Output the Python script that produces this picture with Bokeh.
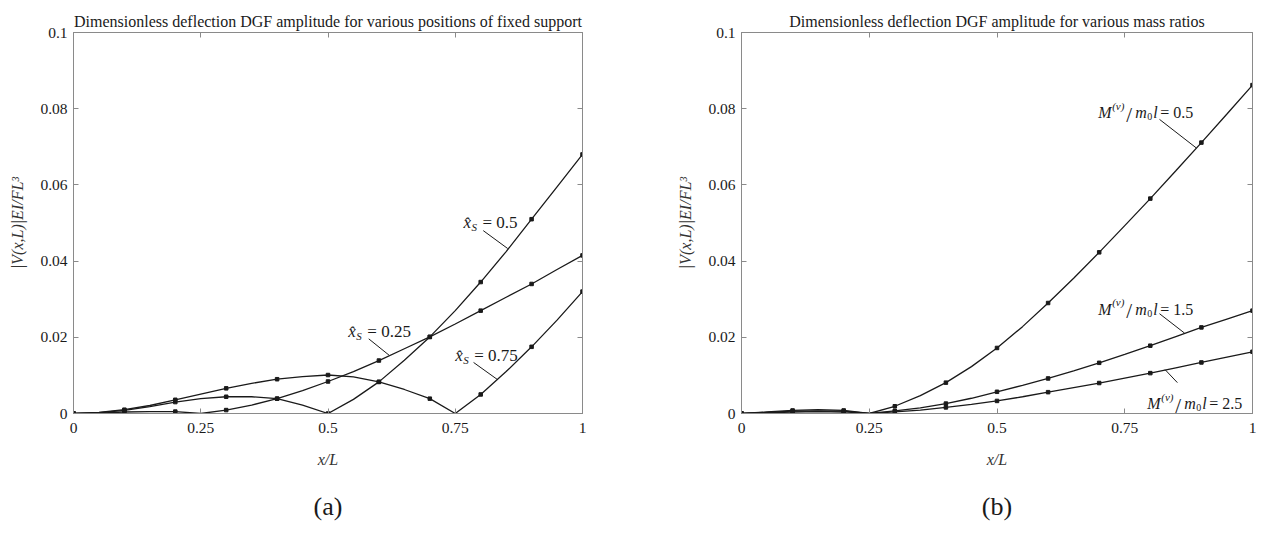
from bokeh.plotting import figure
from bokeh.models import Range1d, LinearAxis, FixedTicker, Label, Title
from bokeh.layouts import row
from bokeh.embed import file_html
from bokeh.resources import INLINE

# ---------------- data ----------------
x_line = [0.0, 0.05, 0.1, 0.15, 0.2, 0.25, 0.3, 0.35, 0.4, 0.45, 0.5,
          0.55, 0.6, 0.65, 0.7, 0.75, 0.8, 0.85, 0.9, 0.95, 1.0]

# panel (a): position of fixed support
xs_025 = [0, 0.0001, 0.0004, 0.0005, 0.0005, 0.0, 0.0009, 0.0022, 0.0039, 0.006, 0.0084,
          0.011, 0.0139, 0.017, 0.0201, 0.0235, 0.027, 0.0305, 0.034, 0.0378, 0.0415]
xs_05 = [0, 0.0002, 0.0008, 0.0018, 0.003, 0.0039, 0.0044, 0.0044, 0.0039, 0.0022, 0.0,
         0.0037, 0.0083, 0.014, 0.0201, 0.027, 0.0345, 0.0425, 0.051, 0.0595, 0.068]
xs_075 = [0, 0.0003, 0.001, 0.0021, 0.0036, 0.0051, 0.0066, 0.0079, 0.009, 0.0097, 0.0101,
          0.0096, 0.0083, 0.0063, 0.0039, 0.0, 0.005, 0.011, 0.0175, 0.0245, 0.032]

# panel (b): mass ratios
mr_05 = [0, 0.0004, 0.0008, 0.001, 0.0008, 0.0, 0.0019, 0.0047, 0.0081, 0.0123, 0.0172,
         0.0228, 0.029, 0.0355, 0.0423, 0.0493, 0.0564, 0.0637, 0.0711, 0.0786, 0.0862]
mr_15 = [0, 0.0003, 0.0006, 0.0007, 0.0006, 0.0, 0.0007, 0.0015, 0.0026, 0.004, 0.0057,
         0.0074, 0.0092, 0.0112, 0.0133, 0.0155, 0.0178, 0.0202, 0.0226, 0.0248, 0.027]
mr_25 = [0, 0.0002, 0.0004, 0.0005, 0.0004, 0.0, 0.0004, 0.0009, 0.0016, 0.0024, 0.0033,
         0.0044, 0.0056, 0.0068, 0.008, 0.0093, 0.0106, 0.012, 0.0134, 0.0148, 0.0162]

x_ticks = [0, 0.25, 0.5, 0.75, 1]
x_tick_labels = ["0", "0.25", "0.5", "0.75", "1"]
y_ticks = [0, 0.02, 0.04, 0.06, 0.08, 0.1]
y_tick_labels = ["0", "0.02", "0.04", "0.06", "0.08", "0.1"]

title_a = "Dimensionless deflection DGF amplitude for various positions of fixed support"
title_b = "Dimensionless deflection DGF amplitude for various mass ratios"
x_label = "x/L"
y_label = "|V(x,L)|EI/FL³"

# ---------------- style ----------------
SERIF = "Liberation Serif"
GREY = "#8a8a8a"
INK = "#1a1a1a"


def make_fig(title, bl, br, panel_tag):
    p = figure(width=632, height=539, output_backend="svg", toolbar_location=None,
               x_range=Range1d(0, 1), y_range=Range1d(0, 0.1),
               min_border_left=bl, min_border_right=br,
               min_border_top=32, min_border_bottom=126,
               x_axis_location=None, y_axis_location=None)
    p.grid.visible = False
    p.outline_line_color = GREY
    p.outline_line_width = 1
    p.background_fill_color = "white"
    p.border_fill_color = "white"

    p.title.text = title
    p.title.align = "center"
    p.title.text_font = SERIF
    p.title.text_font_size = "16px"
    p.title.text_font_style = "normal"
    p.title.text_color = INK
    p.title.standoff = 5

    xb = LinearAxis(ticker=FixedTicker(ticks=x_ticks),
                    major_label_overrides={t: s for t, s in zip(x_ticks, x_tick_labels)})
    yl = LinearAxis(ticker=FixedTicker(ticks=y_ticks),
                    major_label_overrides={t: s for t, s in zip(y_ticks, y_tick_labels)})
    xt = LinearAxis(ticker=FixedTicker(ticks=x_ticks),
                    major_label_overrides={t: "" for t in x_ticks})
    yr = LinearAxis(ticker=FixedTicker(ticks=y_ticks),
                    major_label_overrides={t: "" for t in y_ticks})
    for ax in (xb, yl, xt, yr):
        ax.axis_line_color = GREY
        ax.major_tick_line_color = GREY
        ax.major_tick_in = 5
        ax.major_tick_out = 0
        ax.minor_tick_line_color = None
        ax.major_label_text_font = SERIF
        ax.major_label_text_color = INK
    for ax in (xt, yr):
        ax.major_label_text_font_size = "1px"
        ax.major_label_standoff = 0
    xb.major_label_text_font_size = "15.5px"
    yl.major_label_text_font_size = "15.5px"
    xb.major_label_standoff = 9
    yl.major_label_standoff = 6
    xb.axis_label = x_label
    yl.axis_label = y_label
    for ax in (xb, yl):
        ax.axis_label_text_font = SERIF
        ax.axis_label_text_font_size = "16px"
        ax.axis_label_text_font_style = "italic"
        ax.axis_label_text_color = "#333333"
    xb.axis_label_standoff = 15
    yl.axis_label_standoff = 11
    p.add_layout(xb, "below")
    p.add_layout(yl, "left")
    p.add_layout(xt, "above")
    p.add_layout(yr, "right")

    tag = Title(text=panel_tag, align="center", text_font=SERIF, text_font_size="26px",
                text_font_style="normal", text_color=INK, standoff=38)
    p.add_layout(tag, "below")
    return p


def curve(p, ys):
    p.line(x_line, ys, line_color=INK, line_width=1.3)
    p.scatter(x_line[::2], ys[::2], marker="square", size=3.5,
              fill_color=INK, line_color=INK)


def piece(p, x, y, txt, dx=0, dy=0, size=16, style="normal"):
    p.add_layout(Label(x=x, y=y, x_offset=dx, y_offset=dy, text=txt,
                       text_font=SERIF, text_font_size=f"{size}px",
                       text_font_style=style, text_color=INK,
                       text_baseline="alphabetic", text_align="left"))


def xs_label(p, x, y, val):
    piece(p, x, y, "x\u0302", 0, 0, 17, "italic")
    piece(p, x, y, "S", 8, -4, 11, "italic")
    piece(p, x, y, "= " + val, 19, 0, 17, "normal")


def mr_label(p, x, y, val):
    piece(p, x, y, "M", 0, 0, 16, "italic")
    piece(p, x, y, "(v)", 14, 7, 11, "italic")
    piece(p, x, y, "/", 28, -2, 21, "normal")
    piece(p, x, y, "m", 37, 0, 16, "italic")
    piece(p, x, y, "0", 49, -4, 10, "normal")
    piece(p, x, y, "l", 55, 0, 16, "italic")
    piece(p, x, y, "= " + val, 62, 0, 16, "normal")


def leader(p, x0, y0, x1, y1):
    p.segment(x0=[x0], y0=[y0], x1=[x1], y1=[y1], line_color=INK, line_width=1)


# ---------------- panel (a) ----------------
pa = make_fig(title_a, 73, 50, "(a)")
for ys in (xs_025, xs_05, xs_075):
    curve(pa, ys)
xs_label(pa, 0.766, 0.0501, "0.5")
leader(pa, 0.805, 0.0480, 0.853, 0.0433)
xs_label(pa, 0.540, 0.0215, "0.25")
leader(pa, 0.580, 0.0196, 0.620, 0.0153)
xs_label(pa, 0.750, 0.0152, "0.75")
leader(pa, 0.786, 0.0134, 0.833, 0.0089)

# ---------------- panel (b) ----------------
pb = make_fig(title_b, 109, 12, "(b)")
for ys in (mr_05, mr_15, mr_25):
    curve(pb, ys)
mr_label(pb, 0.698, 0.079, "0.5")
leader(pb, 0.818, 0.0772, 0.890, 0.0697)
mr_label(pb, 0.698, 0.0273, "1.5")
leader(pb, 0.818, 0.0262, 0.867, 0.0211)
mr_label(pb, 0.794, 0.0026, "2.5")
leader(pb, 0.853, 0.0081, 0.829, 0.0115)

layout = row(pa, pb)
open("out.html", "w").write(file_html(layout, INLINE))
